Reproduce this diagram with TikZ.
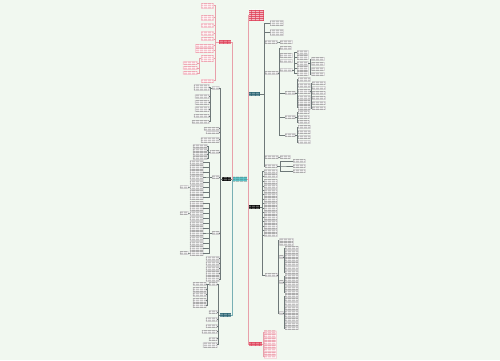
\documentclass[tikz,border=0pt]{standalone}
\usetikzlibrary{patterns.meta}

\definecolor{bgmint}{RGB}{241,248,240}
\definecolor{rootcyan}{RGB}{100,205,210}
\definecolor{topred}{RGB}{222,62,86}
\definecolor{darkteal}{RGB}{35,95,110}
\definecolor{linkpink}{RGB}{232,160,170}
\definecolor{linkteal}{RGB}{120,175,180}
\definecolor{linkgray}{RGB}{110,120,120}
\definecolor{leafgray}{RGB}{80,80,80}
\definecolor{leafpink}{RGB}{225,80,105}

% text lines inside the tiny boxes
\tikzdeclarepattern{
  name=txtlines,
  type=uncolored,
  bounding box={(0pt,0pt) and (4pt,1.8pt)},
  tile size={(4pt,1.8pt)},
  code={\fill (0pt,0.5pt) rectangle (4pt,1.1pt);}
}

\tikzset{
  topic/.style={inner sep=0pt, minimum height=4, fill=#1, postaction={pattern=txtlines, pattern color=white}},
  centre/.style={inner sep=0pt, minimum height=4.5, fill=rootcyan, postaction={pattern=txtlines, pattern color=rootcyan!45!black}},
  leaf/.style={draw=gray!25, line width=0.2pt, fill=white, inner sep=0pt, postaction={pattern=txtlines, pattern color=leafgray}},
  pinkleaf/.style={draw=linkpink!40, line width=0.2pt, fill=white, inner sep=0pt, postaction={pattern=txtlines, pattern color=leafpink}},
  link/.style={line width=0.3pt},
  mainlink/.style={line width=0.6pt},
  leaf link/.style={draw=linkgray},
  pinkleaf link/.style={draw=linkpink},
}

% children to the right: parent, prefix, trunk offset, west x, style, y/h/w list
\newcommand{\rkids}[6]{%
  \foreach \yy/\hh/\ww [count=\k] in {#6}{%
    \node[#5, minimum width=\ww, minimum height=\hh, anchor=west] (#2\k) at (#4,\yy) {};
    \draw[link, #5 link] (#1.east) -- ++(#3,0) |- (#2\k.west);
  }}
% children to the left: parent, prefix, trunk offset, east x, style, y/h/w list
\newcommand{\lkids}[6]{%
  \foreach \yy/\hh/\ww [count=\k] in {#6}{%
    \node[#5, minimum width=\ww, minimum height=\hh, anchor=east] (#2\k) at (#4,\yy) {};
    \draw[link, #5 link] (#1.west) -- ++(-#3,0) |- (#2\k.east);
  }}

\begin{document}
\begin{tikzpicture}[x=1pt, y=-1pt]
\fill[bgmint] (0,0) rectangle (500,360);
\useasboundingbox (0,0) rectangle (500,360);

% central topic and main branches
\node[centre, minimum width=14] (root) at (240,179) {};
\node[topic=topred, minimum width=15, minimum height=11] (r1) at (256.5,15) {};
\node[topic=darkteal, minimum width=11] (r2) at (254.5,94) {};
\node[topic=black, minimum width=11] (r3) at (254.5,207) {};
\node[topic=topred, minimum width=13] (r4) at (255.5,344) {};
\node[topic=topred, minimum width=12] (l1) at (225,42) {};
\node[topic=black, minimum width=9] (l2) at (226.5,179) {};
\node[topic=darkteal, minimum width=11] (l3) at (225.5,315) {};

\draw[mainlink, linkteal] (root.east) -- ++(1,0) |- (r2.west);
\draw[mainlink, linkgray] (root.east) -- ++(1,0) |- (r3.west);
\draw[mainlink, linkpink] (root.east) -- ++(1,0) |- (r1.west);
\draw[mainlink, linkpink] (root.east) -- ++(1,0) |- (r4.west);
\draw[mainlink, linkgray] (root.west) -- (l2.east);
\draw[mainlink, linkteal] (root.west) -- ++(-1,0) |- (l3.east);
\draw[mainlink, linkpink] (root.west) -- ++(-1,0) |- (l1.east);

% right, upper branch
\rkids{r2}{r2k}{4}{270}{leaf}{23/5/13, 32/6/13}
\node[leaf, minimum width=12, minimum height=3, anchor=west] (r2c) at (265,42) {};
\node[leaf, minimum width=13, minimum height=3, anchor=west] (r2d) at (265,73) {};
\node[leaf, minimum width=13, minimum height=3, anchor=west] (r2e) at (265,157) {};
\node[leaf, minimum width=12, minimum height=3, anchor=west] (r2f) at (265,166) {};
\foreach \s in {r2c,r2d,r2e,r2f} \draw[link, leaf link] (r2.east) -- ++(4,0) |- (\s.west);
\rkids{r2c}{r2ck}{1}{280}{leaf}{42/3/12}
\rkids{r2d}{r2dk}{1}{280}{leaf}{48/3/11, 55/4/12, 61/3/12, 70/3/12}
\rkids{r2dk4}{r2dm}{2}{297}{leaf}{52/4/11, 57/4/11, 63/4/11, 68/4/11, 73/4/11}
\rkids{r2dm3}{r2dn}{1.5}{311}{leaf}{59/3/13, 64/3/13, 69/3/13, 74/3/13}
\rkids{r2d}{r2dp}{1}{285}{leaf}{93/3/10, 117/3/10, 135/3/10}
\rkids{r2dp1}{r2dq}{1.5}{298}{leaf}{79/4/12, 85/4/12, 91/4/12, 97/4/12, 102/4/12, 107/4/12}
\rkids{r2dq3}{r2dr}{1}{312}{leaf}{83/3/13, 88/3/13, 93/3/13, 98/3/13, 103/3/13, 108/3/13}
\rkids{r2dp2}{r2ds}{1.5}{298}{leaf}{112/3/11, 117/3/11, 122/3/11}
\rkids{r2dp3}{r2dt}{1.5}{298}{leaf}{127/3/12, 132/3/12, 137/3/12, 142/3/12}
\rkids{r2e}{r2ek}{1}{280}{leaf}{157/3/10}
\rkids{r2f}{r2fk}{3}{293}{leaf}{161/3/12, 166/3/12, 171/3/12}

% right, lower branch
\rkids{r3}{r3k}{1.5}{264}{leaf}{171/4/13, 176/3/13, 181/4/13, 186/4/13, 190.5/3/13, 194.5/3/13, 199/4/13, 203.5/3/13, 208/4/13, 212.5/3/13, 217/4/13, 221.5/3/13, 226/4/13, 230.5/3/13, 235/3/13}
\node[leaf, minimum width=12, minimum height=3, anchor=west] (r3s) at (265,275) {};
\draw[link, leaf link] (r3.east) -- ++(1.5,0) |- (r3s.west);
\rkids{r3s}{r3t}{1}{279}{leaf}{240/3/14, 243.5/3/14, 257/3/4, 282/3/4, 313/3/4}
\rkids{r3t3}{r3a}{1}{285}{leaf}{248/3/13, 252/3/13, 256/3/13, 260/3/13, 264/3/13, 268/3/13, 272/3/13}
\rkids{r3t4}{r3b}{1}{285}{leaf}{276/3/13, 280/3/13, 284/3/13, 288/3/13, 292/3/13}
\rkids{r3t5}{r3c}{1}{285}{leaf}{296/3/13, 300/3/13, 304/3/13, 308/3/13, 312/3/13, 316/3/13, 320/3/13, 324/3/13, 328/3/13}

% right, red list at the bottom
\rkids{r4}{r4k}{1}{264}{pinkleaf}{332/2.5/12, 335.5/2.5/12, 339/2.5/12, 342.5/2.5/12, 346/2.5/12, 349.5/2.5/12, 353/2.5/12, 356.5/2.5/12}

% left, red branch
\lkids{l1}{l1k}{4}{213.5}{pinkleaf}{5.5/5/12, 17.5/5/12, 25/4/12, 33/4/12, 39/3/12, 45.5/3/18, 50/4/18, 58/6/12, 80.5/3/12}
\lkids{l1k8}{l1m}{2}{197}{pinkleaf}{63/3/14, 68/3/14, 73/3/14}

% left, black branch
\lkids{l2}{l2k}{2}{219}{leaf}{88/3/7, 128.5/3/15, 132.5/2/13, 139.5/5/18, 152/3/9, 177/3/7, 233/3/7, 258/4/13, 263/4/13, 268/4/13, 273/4/13, 279/5/13}
\lkids{l2k1}{l2a}{1.5}{209}{leaf}{87/6/15, 96/4/14, 102/4/14, 109/5/14, 116/3/15, 121.5/3/17}
\lkids{l2k5}{l2b}{1.5}{207}{leaf}{146/3/14, 150/3/14, 154/3/14, 158/3/14}
\lkids{l2k6}{l2c}{3}{203}{leaf}{162/4/13, 167/4/13, 172/4/13, 177/4/13, 182/4/13, 187/4/13, 192/4/13, 197/4/13}
\lkids{l2k7}{l2d}{3}{203}{leaf}{203/4/13, 208/4/13, 213/4/13, 218/4/13, 223/4/13, 228/4/13, 233/4/13, 238/4/13, 243/4/13, 248/4/13, 253/4/13}
\lkids{l2c6}{l2e}{1}{188}{leaf}{187/3/8}
\lkids{l2d3}{l2f}{1}{188}{leaf}{213/3/8}
\lkids{l2d11}{l2g}{1}{188}{leaf}{253/3/8}

% left, teal branch
\lkids{l3}{l3k}{1.5}{217}{leaf}{284/3/8, 312/3/8, 319/4/11, 326/3/11, 331.5/3/15, 338.5/3/8, 344.5/5/14}
\lkids{l3k1}{l3a}{1.5}{206}{leaf}{284/3/13, 289/4/13, 294.5/4/13, 300/4/13, 305.5/4/13}
\end{tikzpicture}
\end{document}
